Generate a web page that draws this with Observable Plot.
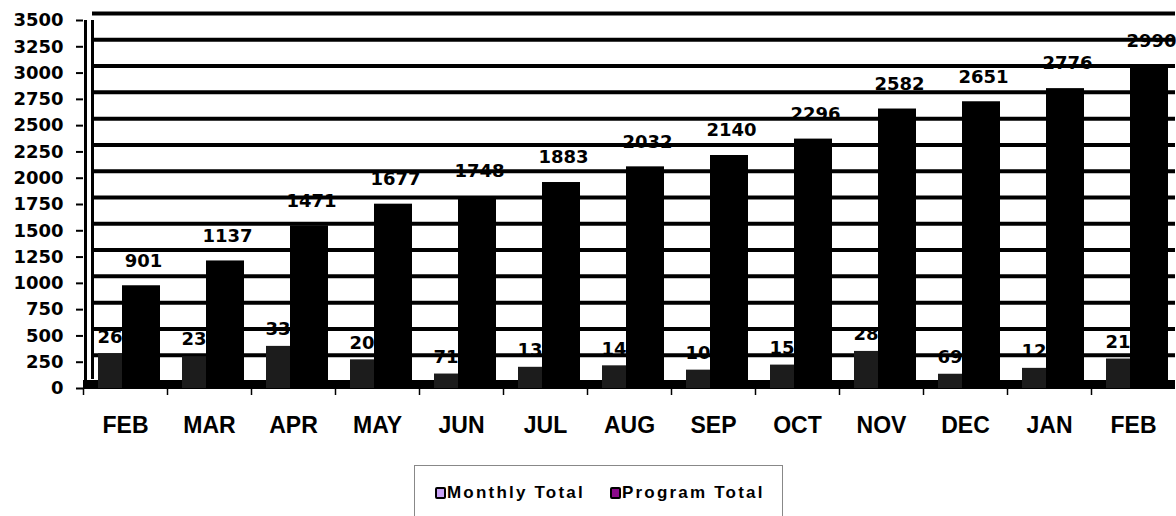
<!DOCTYPE html>
<html>
<head>
<meta charset="utf-8">
<script src="https://cdn.jsdelivr.net/npm/d3@7"></script>
<script src="https://cdn.jsdelivr.net/npm/@observablehq/plot@0.6"></script>
<style>
  html, body { margin: 0; padding: 0; background: #fff; }
  #chart { width: 1176px; height: 450px; overflow: hidden; }
  .legend {
    position: absolute; left: 414px; top: 465px; width: 369px; height: 60px;
    border: 1px solid #888; box-sizing: border-box;
    font-family: "Liberation Sans", Arial, sans-serif; font-weight: bold; font-size: 17px;
    letter-spacing: 2.2px; color: #000;
  }
  .item { position: absolute; top: 17px; display: flex; align-items: center; }
  .sw { width: 7px; height: 8px; border: 2px solid #000; border-radius: 2px; margin-right: 1px; }
</style>
</head>
<body>
<div id="chart"></div>
<div class="legend">
  <div class="item" style="left:20px"><span class="sw" style="background:#c8a2f6"></span><span>Monthly Total</span></div>
  <div class="item" style="left:195px"><span class="sw" style="background:#8a0a8a"></span><span>Program Total</span></div>
</div>
<script>
const monthLabels = ["FEB","MAR","APR","MAY","JUN","JUL","AUG","SEP","OCT","NOV","DEC","JAN","FEB"];
const monthlyTotal = [264, 236, 334, 206, 71, 135, 149, 108, 156, 286, 69, 125, 214];
const programTotal = [901, 1137, 1471, 1677, 1748, 1883, 2032, 2140, 2296, 2582, 2651, 2776, 2990];
const yTicks = [0,250,500,750,1000,1250,1500,1750,2000,2250,2500,2750,3000,3250,3500];

const idx = monthLabels.map((_, i) => i);
const monthly = idx.map(i => ({i, v: monthlyTotal[i]}));
const program = idx.map(i => ({i, v: programTotal[i]}));

const W = 1176, ML = 83, MR = 1;
const bw = (W - ML - MR) / monthLabels.length;

const chart = Plot.plot({
  width: W,
  height: 450,
  marginLeft: ML,
  marginRight: MR,
  marginTop: 20,
  marginBottom: 62,
  style: {fontFamily: "DejaVu Sans, sans-serif", fontWeight: "bold", background: "#fff", color: "#000"},
  x: {type: "band", domain: idx, padding: 0, axis: null, label: null},
  y: {domain: [0, 3500], axis: null, label: null},
  marks: [
    // back wall grid lines
    Plot.ruleY(yTicks.filter(t => t > 0), {y: d => d, stroke: "#000", strokeWidth: 4, dy: -7, insetLeft: 9}),
    // left wall lines
    Plot.ruleX([0], {x: d => d, y1: 0, y2: 3500, dx: -bw / 2 + 2, stroke: "#000", strokeWidth: 3, insetTop: -7}),
    Plot.ruleX([0], {x: d => d, y1: 0, y2: 3500, dx: -bw / 2 + 9, stroke: "#000", strokeWidth: 3, insetTop: -9}),
    // floor
    Plot.ruleY([0], {stroke: "#000", strokeWidth: 9, dy: -4}),
    // y axis ticks and labels
    Plot.axisY({ticks: yTicks, label: null, tickFormat: d => String(d), tickSize: 7, tickPadding: 13,
      fontSize: 18, fontWeight: "bold", strokeWidth: 2}),
    // x axis boundary ticks
    Plot.axisX({ticks: idx, label: null, tickSize: 7, dx: -bw / 2, tickFormat: () => "", strokeWidth: 1.5}),
    // x axis labels
    Plot.axisX({ticks: idx, label: null, tickSize: 0, tickPadding: 28, tickFormat: i => monthLabels[i],
      fontSize: 23, fontFamily: "Liberation Sans, Arial, sans-serif", fontWeight: "bold"}),
    // monthly bars
    Plot.barY(monthly, {x: "i", y: "v", fill: "#1c1c1c", insetLeft: 15, insetRight: 37, insetTop: -7}),
    Plot.text(monthly, {x: "i", y: "v", text: d => String(d.v), textAnchor: "start", dx: -28, dy: -24, fontSize: 18, fill: "#000"}),
    // program bars
    Plot.barY(program, {x: "i", y: "v", fill: "#000", insetLeft: 39, insetRight: 7, insetTop: -8}),
    Plot.text(program, {x: "i", y: "v", text: d => String(d.v), dx: 18, dy: -33, fontSize: 18, fill: "#000"})
  ]
});
document.getElementById("chart").appendChild(chart);
</script>
</body>
</html>
